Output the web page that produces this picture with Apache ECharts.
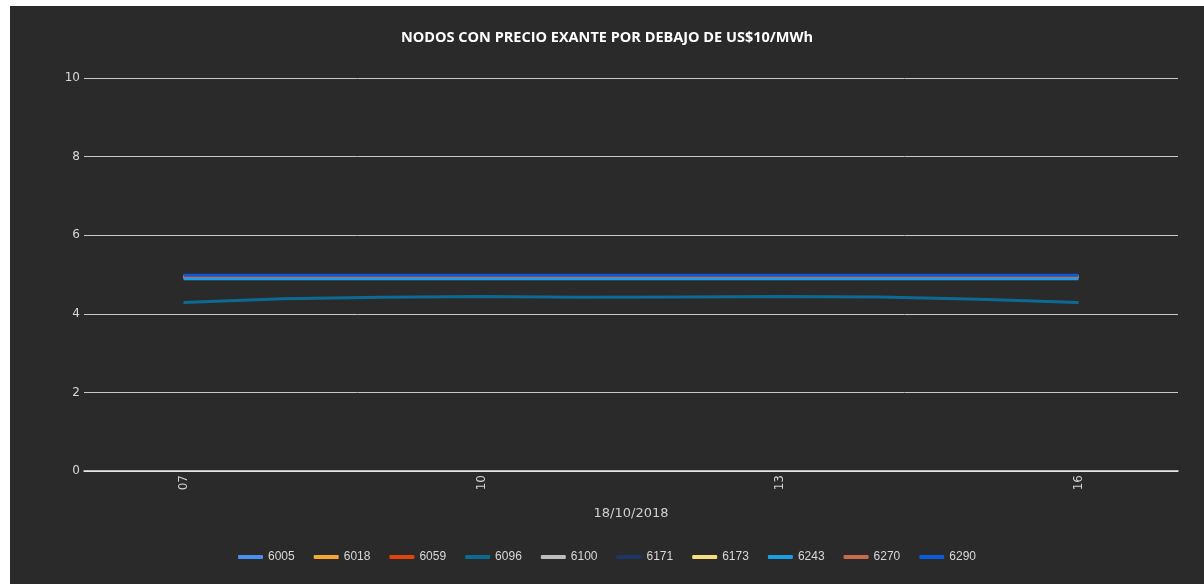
<!DOCTYPE html>
<html>
<head>
<meta charset="utf-8">
<script src="https://cdn.jsdelivr.net/npm/echarts@6/dist/echarts.min.js"></script>
<style>
  html, body { margin: 0; padding: 0; background: #ffffff; width: 1204px; height: 584px; overflow: hidden; }
  #chart { position: absolute; left: 10px; top: 6px; width: 1194px; height: 578px; background: #2a2a2a; }
</style>
</head>
<body>
<div id="chart"></div>
<script>
// Hours (06 and 17 are empty padding categories)
const categories = ['06','07','08','09','10','11','12','13','14','15','16','17'];
const seriesNames = ['6005','6018','6059','6096','6100','6171','6173','6243','6270','6290'];
const seriesColors = ['#4a8ef0','#f5a734','#e2420c','#0d6a92','#bdbdbd','#1c3766','#f8dd7c','#1aa0e2','#c96a4d','#0a5ad9'];
const v6005 = [null,4.95,4.95,4.95,4.95,4.95,4.95,4.95,4.95,4.95,4.95,null];
const v6018 = [null,4.95,4.95,4.95,4.95,4.95,4.95,4.95,4.95,4.95,4.95,null];
const v6059 = [null,4.95,4.95,4.95,4.95,4.95,4.95,4.95,4.95,4.95,4.95,null];
const v6096 = [null,4.29,4.38,4.42,4.44,4.42,4.43,4.44,4.43,4.37,4.29,null];
const v6100 = [null,4.94,4.94,4.94,4.94,4.94,4.94,4.94,4.94,4.94,4.94,null];
const v6171 = [null,4.95,4.95,4.95,4.95,4.95,4.95,4.95,4.95,4.95,4.95,null];
const v6173 = [null,4.95,4.95,4.95,4.95,4.95,4.95,4.95,4.95,4.95,4.95,null];
const v6243 = [null,4.89,4.89,4.89,4.89,4.89,4.89,4.89,4.89,4.89,4.89,null];
const v6270 = [null,4.95,4.95,4.95,4.95,4.95,4.95,4.95,4.95,4.95,4.95,null];
const v6290 = [null,4.98,4.98,4.98,4.98,4.98,4.98,4.98,4.98,4.98,4.98,null];
const seriesValues = [v6005,v6018,v6059,v6096,v6100,v6171,v6173,v6243,v6270,v6290];
const yTicks = [0, 2, 4, 6, 8, 10];
const titleText = 'NODOS CON PRECIO EXANTE POR DEBAJO DE US$10/MWh';
const xName = '18/10/2018';

const chart = echarts.init(document.getElementById('chart'), null, { renderer: 'canvas' });
chart.setOption({
  backgroundColor: '#2a2a2a',
  animation: false,
  title: {
    text: titleText,
    left: 'center',
    top: 19,
    textStyle: { color: '#ffffff', fontSize: 14.5, fontWeight: 'bold', fontFamily: 'Open Sans, sans-serif' }
  },
  legend: {
    bottom: 16,
    left: 'center',
    icon: 'roundRect',
    itemWidth: 25,
    itemHeight: 4,
    itemGap: 19,
    textStyle: { color: '#d8d8d8', fontSize: 12, fontFamily: 'Liberation Sans, Arial, sans-serif' },
    data: seriesNames
  },
  grid: { left: 74, right: 26, top: 72, bottom: 113, containLabel: false },
  xAxis: {
    type: 'category',
    data: categories,
    boundaryGap: false,
    name: xName,
    nameLocation: 'middle',
    nameGap: 36,
    nameTextStyle: { color: '#d0d0d0', fontSize: 13, fontFamily: 'DejaVu Sans, sans-serif' },
    axisLine: { show: true, lineStyle: { color: '#eeeeee', width: 1.5 } },
    axisTick: { show: false },
    axisLabel: {
      rotate: 90,
      margin: 4,
      color: '#d0d0d0',
      fontSize: 12,
      fontFamily: 'DejaVu Sans, sans-serif',
      interval: function (idx) { return idx % 3 === 1; }
    },
    splitLine: { show: false }
  },
  yAxis: {
    type: 'value',
    min: yTicks[0],
    max: yTicks[yTicks.length - 1],
    interval: 2,
    axisLine: { show: false },
    axisTick: { show: false },
    axisLabel: { margin: 4, color: '#d8d8d8', fontSize: 12, fontFamily: 'DejaVu Sans, sans-serif' },
    splitLine: { show: true, lineStyle: { color: '#c8c8c8', width: 1 } }
  },
  series: seriesNames.map((name, i) => ({
    name: name,
    type: 'line',
    data: seriesValues[i],
    showSymbol: false,
    symbol: 'none',
    color: seriesColors[i],
    lineStyle: { width: 3, color: seriesColors[i] },
    emphasis: { disabled: true }
  }))
});
</script>
</body>
</html>
